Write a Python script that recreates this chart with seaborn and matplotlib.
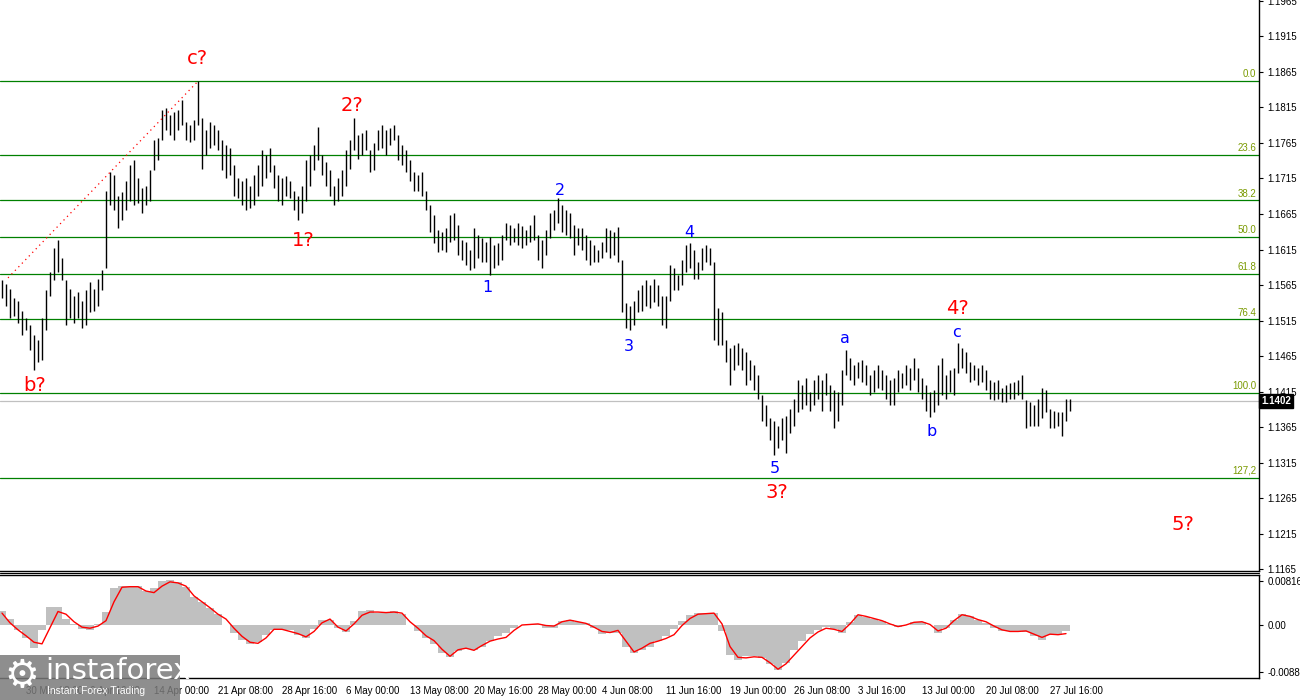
import numpy as np
import pandas as pd
import matplotlib
matplotlib.use("Agg")
import matplotlib.pyplot as plt
import matplotlib.transforms as mtrans
from matplotlib.patches import Rectangle
import seaborn as sns

# ---------------- data ----------------
highs = [
    1.1572, 1.1567, 1.1560, 1.1546, 1.1543, 1.1529, 1.1518, 1.1508, 1.1494, 1.1487,
    1.1518, 1.1558, 1.1583, 1.1617, 1.1628, 1.1603, 1.1572, 1.1560, 1.1550, 1.1555,
    1.1543, 1.1558, 1.1569, 1.1560, 1.1574, 1.1586, 1.1698, 1.1724, 1.1720, 1.1691,
    1.1696, 1.1712, 1.1734, 1.1741, 1.1715, 1.1701, 1.1705, 1.1727, 1.1769, 1.1772,
    1.1811, 1.1814, 1.1804, 1.1808, 1.1811, 1.1825, 1.1794, 1.1790, 1.1797, 1.1852,
    1.1800, 1.1783, 1.1794, 1.1790, 1.1783, 1.1769, 1.1762, 1.1758, 1.1734, 1.1715,
    1.1712, 1.1715, 1.1705, 1.1720, 1.1734, 1.1755, 1.1748, 1.1758, 1.1734, 1.1720,
    1.1715, 1.1718, 1.1712, 1.1698, 1.1691, 1.1705, 1.1741, 1.1748, 1.1762, 1.1787,
    1.1748, 1.1738, 1.1727, 1.1705, 1.1715, 1.1727, 1.1755, 1.1769, 1.1800, 1.1776,
    1.1779, 1.1783, 1.1755, 1.1765, 1.1783, 1.1790, 1.1783, 1.1786, 1.1791, 1.1776,
    1.1762, 1.1755, 1.1741, 1.1724, 1.1720, 1.1724, 1.1698, 1.1677, 1.1663, 1.1642,
    1.1639, 1.1645, 1.1663, 1.1667, 1.1649, 1.1628, 1.1625, 1.1614, 1.1645, 1.1635,
    1.1631, 1.1625, 1.1632, 1.1621, 1.1624, 1.1635, 1.1653, 1.1649, 1.1645, 1.1653,
    1.1648, 1.1642, 1.1649, 1.1663, 1.1635, 1.1628, 1.1642, 1.1667, 1.1670, 1.1687,
    1.1677, 1.1670, 1.1666, 1.1649, 1.1645, 1.1645, 1.1635, 1.1628, 1.1621, 1.1614,
    1.1625, 1.1645, 1.1642, 1.1639, 1.1646, 1.1600, 1.1539, 1.1536, 1.1543, 1.1558,
    1.1565, 1.1572, 1.1565, 1.1574, 1.1565, 1.1550, 1.1550, 1.1593, 1.1589, 1.1579,
    1.1600, 1.1621, 1.1624, 1.1614, 1.1597, 1.1617, 1.1621, 1.1617, 1.1597, 1.1532,
    1.1527, 1.1487, 1.1476, 1.1480, 1.1484, 1.1476, 1.1470, 1.1459, 1.1452, 1.1438,
    1.1410, 1.1396, 1.1377, 1.1374, 1.1367, 1.1377, 1.1381, 1.1391, 1.1405, 1.1431,
    1.1424, 1.1434, 1.1414, 1.1431, 1.1438, 1.1431, 1.1441, 1.1424, 1.1417, 1.1414,
    1.1445, 1.1473, 1.1462, 1.1452, 1.1456, 1.1459, 1.1452, 1.1438, 1.1445, 1.1452,
    1.1445, 1.1438, 1.1431, 1.1434, 1.1445, 1.1441, 1.1452, 1.1448, 1.1462, 1.1448,
    1.1434, 1.1424, 1.1414, 1.1417, 1.1452, 1.1462, 1.1438, 1.1445, 1.1448, 1.1484,
    1.1476, 1.1470, 1.1456, 1.1452, 1.1448, 1.1452, 1.1445, 1.1431, 1.1428, 1.1431,
    1.1420, 1.1424, 1.1427, 1.1428, 1.1431, 1.1438, 1.1403, 1.1400, 1.1396, 1.1405,
    1.1420, 1.1417, 1.1391, 1.1388, 1.1386, 1.1386, 1.1405, 1.1405,
]
lows = [
    1.1547, 1.1536, 1.1518, 1.1522, 1.1512, 1.1494, 1.1501, 1.1473, 1.1445, 1.1456,
    1.1459, 1.1501, 1.1550, 1.1572, 1.1583, 1.1572, 1.1508, 1.1518, 1.1512, 1.1518,
    1.1505, 1.1508, 1.1527, 1.1529, 1.1536, 1.1558, 1.1589, 1.1677, 1.1670, 1.1645,
    1.1656, 1.1670, 1.1684, 1.1677, 1.1680, 1.1666, 1.1677, 1.1684, 1.1727, 1.1741,
    1.1769, 1.1783, 1.1776, 1.1769, 1.1783, 1.1790, 1.1769, 1.1766, 1.1769, 1.1790,
    1.1729, 1.1748, 1.1758, 1.1762, 1.1755, 1.1727, 1.1715, 1.1720, 1.1691, 1.1687,
    1.1677, 1.1670, 1.1673, 1.1677, 1.1691, 1.1705, 1.1715, 1.1724, 1.1701, 1.1684,
    1.1677, 1.1691, 1.1687, 1.1670, 1.1656, 1.1667, 1.1684, 1.1705, 1.1727, 1.1741,
    1.1720, 1.1705, 1.1691, 1.1677, 1.1684, 1.1691, 1.1705, 1.1729, 1.1755, 1.1743,
    1.1748, 1.1755, 1.1724, 1.1727, 1.1755, 1.1758, 1.1748, 1.1762, 1.1769, 1.1741,
    1.1734, 1.1724, 1.1712, 1.1698, 1.1698, 1.1691, 1.1670, 1.1639, 1.1624, 1.1611,
    1.1614, 1.1611, 1.1625, 1.1628, 1.1607, 1.1600, 1.1593, 1.1586, 1.1589, 1.1603,
    1.1597, 1.1597, 1.1579, 1.1589, 1.1593, 1.1600, 1.1628, 1.1621, 1.1625, 1.1621,
    1.1617, 1.1621, 1.1625, 1.1628, 1.1600, 1.1589, 1.1607, 1.1631, 1.1642, 1.1653,
    1.1639, 1.1635, 1.1631, 1.1607, 1.1621, 1.1614, 1.1600, 1.1593, 1.1597, 1.1597,
    1.1603, 1.1611, 1.1603, 1.1607, 1.1597, 1.1527, 1.1504, 1.1501, 1.1508, 1.1527,
    1.1529, 1.1536, 1.1532, 1.1541, 1.1536, 1.1508, 1.1504, 1.1543, 1.1558, 1.1558,
    1.1565, 1.1583, 1.1589, 1.1574, 1.1574, 1.1586, 1.1597, 1.1593, 1.1487, 1.1480,
    1.1480, 1.1456, 1.1424, 1.1445, 1.1452, 1.1445, 1.1424, 1.1431, 1.1417, 1.1405,
    1.1374, 1.1367, 1.1346, 1.1325, 1.1335, 1.1346, 1.1329, 1.1357, 1.1367, 1.1386,
    1.1391, 1.1396, 1.1388, 1.1396, 1.1405, 1.1388, 1.1410, 1.1388, 1.1363, 1.1374,
    1.1396, 1.1438, 1.1431, 1.1424, 1.1434, 1.1428, 1.1424, 1.1410, 1.1414, 1.1420,
    1.1417, 1.1405, 1.1396, 1.1396, 1.1414, 1.1420, 1.1424, 1.1417, 1.1431, 1.1414,
    1.1405, 1.1388, 1.1379, 1.1386, 1.1396, 1.1410, 1.1405, 1.1414, 1.1410, 1.1441,
    1.1448, 1.1441, 1.1428, 1.1431, 1.1424, 1.1428, 1.1417, 1.1405, 1.1403, 1.1405,
    1.1400, 1.1400, 1.1405, 1.1405, 1.1410, 1.1405, 1.1363, 1.1367, 1.1366, 1.1367,
    1.1377, 1.1386, 1.1363, 1.1363, 1.1367, 1.1353, 1.1374, 1.1388,
]
last_price = 1.1402

# MACD main (histogram) and signal, sampled every second bar
macd_main = [
    0.0026, 0.0012, -0.0009, -0.0024, -0.0042, -0.0010, 0.0034, 0.0033, 0.0012, 0.0001,
    -0.0008, -0.0009, 0.0002, 0.0025, 0.0068, 0.0073, 0.0073, 0.0072, 0.0063, 0.0068,
    0.0082, 0.0083, 0.0080, 0.0070, 0.0052, 0.0042, 0.0032, 0.0020, 0.0000, -0.0015,
    -0.0028, -0.0035, -0.0032, -0.0018, -0.0010, -0.0009, -0.0009, -0.0018, -0.0025, -0.0008,
    0.0010, 0.0010, -0.0006, -0.0013, 0.0008, 0.0026, 0.0027, 0.0022, 0.0024, 0.0026,
    0.0020, 0.0000, -0.0012, -0.0025, -0.0035, -0.0052, -0.0060, -0.0048, -0.0044, -0.0047,
    -0.0040, -0.0030, -0.0020, -0.0015, -0.0006, 0.0000, 0.0002, 0.0002, -0.0006, -0.0005,
    0.0007, 0.0010, 0.0006, 0.0003, -0.0005, -0.0016, -0.0015, -0.0015, -0.0040, -0.0052,
    -0.0046, -0.0040, -0.0030, -0.0020, -0.0008, 0.0008, 0.0018, 0.0023, 0.0022, 0.0023,
    -0.0012, -0.0055, -0.0065, -0.0058, -0.0058, -0.0062, -0.0072, -0.0083, -0.0070, -0.0046,
    -0.0030, -0.0017, -0.0010, -0.0004, -0.0008, -0.0015, 0.0005, 0.0019, 0.0015, 0.0012,
    0.0008, 0.0001, -0.0003, 0.0000, 0.0005, 0.0006, 0.0000, -0.0014, -0.0006, 0.0009,
    0.0020, 0.0016, 0.0009, 0.0003, -0.0005, -0.0011, -0.0012, -0.0011, -0.0013, -0.0020,
    -0.0027, -0.0019, -0.0018, -0.0012,
]
macd_signal = [
    0.0022, 0.0004, -0.0009, -0.0020, -0.0032, -0.0035, -0.0005, 0.0025, 0.0020, 0.0006,
    -0.0004, -0.0006, -0.0002, 0.0008, 0.0043, 0.0070, 0.0071, 0.0071, 0.0063, 0.0060,
    0.0072, 0.0080, 0.0078, 0.0072, 0.0054, 0.0043, 0.0032, 0.0020, 0.0011, -0.0006,
    -0.0021, -0.0032, -0.0034, -0.0024, -0.0008, -0.0008, -0.0012, -0.0016, -0.0022, -0.0012,
    0.0004, 0.0011, -0.0004, -0.0011, 0.0002, 0.0018, 0.0024, 0.0024, 0.0023, 0.0024,
    0.0022, 0.0006, -0.0006, -0.0020, -0.0029, -0.0045, -0.0058, -0.0046, -0.0043, -0.0047,
    -0.0038, -0.0030, -0.0026, -0.0023, -0.0010, 0.0000, 0.0001, 0.0002, -0.0001, -0.0002,
    0.0006, 0.0009, 0.0006, 0.0003, -0.0004, -0.0012, -0.0014, -0.0010, -0.0030, -0.0050,
    -0.0043, -0.0034, -0.0030, -0.0025, -0.0018, -0.0001, 0.0012, 0.0020, 0.0021, 0.0022,
    0.0002, -0.0040, -0.0060, -0.0061, -0.0059, -0.0060, -0.0070, -0.0082, -0.0072, -0.0056,
    -0.0040, -0.0024, -0.0013, -0.0006, -0.0008, -0.0012, 0.0002, 0.0019, 0.0016, 0.0012,
    0.0008, 0.0002, -0.0003, 0.0000, 0.0005, 0.0006, 0.0001, -0.0011, -0.0006, 0.0008,
    0.0019, 0.0016, 0.0010, 0.0006, -0.0002, -0.0009, -0.0012, -0.0012, -0.0011, -0.0017,
    -0.0023, -0.0017, -0.0018, -0.0016,
]

date_labels = ["30 Mar 08:00", "6 Apr 16:00", "14 Apr 00:00", "21 Apr 08:00",
               "28 Apr 16:00", "6 May 00:00", "13 May 08:00", "20 May 16:00",
               "28 May 00:00", "4 Jun 08:00", "11 Jun 16:00", "19 Jun 00:00",
               "26 Jun 08:00", "3 Jul 16:00", "13 Jul 00:00", "20 Jul 08:00",
               "27 Jul 16:00"]
date_tick_bars = [6 + 16 * k for k in range(len(date_labels))]

fib_ratios = [0.0, 23.6, 38.2, 50.0, 61.8, 76.4, 100.0, 127.2]
fib_texts = ["0.0", "23.6", "38.2", "50.0", "61.8", "76.4", "100.0", "127,2"]
fib_high = 1.1852
fib_low = 1.1413

price_ticks = [1.1165, 1.1215, 1.1265, 1.1315, 1.1365, 1.1415, 1.1465, 1.1515,
               1.1565, 1.1615, 1.1665, 1.1715, 1.1765, 1.1815, 1.1865, 1.1915, 1.1965]
macd_ticks = [-0.0088, 0.0, 0.00816]
macd_tick_texts = ["-0.0088", "0.00", "0.00816"]

red_waves = [("c?", 48.75, 1.1884), ("b?", 8.25, 1.1424), ("2?", 87.5, 1.1818),
             ("1?", 75.25, 1.1628), ("3?", 193.75, 1.1273), ("4?", 238.75, 1.1532),
             ("5?", 295.25, 1.1227)]
blue_waves = [("2", 139.5, 1.1698), ("1", 121.25, 1.1562), ("3", 156.75, 1.1479),
              ("4", 171.75, 1.1639), ("5", 193.25, 1.1307), ("a", 210.75, 1.1490),
              ("b", 232.5, 1.1359), ("c", 238.75, 1.1498)]
trend_start = (1.5, 1.1575)
trend_end = (49, 1.1852)

# ---------------- styling ----------------
sns.set_style("white")
plt.rcParams['font.family'] = ['Liberation Sans', 'DejaVu Sans']

W, H = 1300, 700
fig = plt.figure(figsize=(13, 7), dpi=100)
fig.patch.set_facecolor("white")

def fx(px):
    return px / W

def fy(py):
    return 1 - py / H

ax = fig.add_axes([0, fy(571), fx(1259), fy(0) - fy(571)])
axm = fig.add_axes([0, fy(678), fx(1259), fy(575) - fy(678)])

n = len(highs)
bars = pd.DataFrame({"i": np.arange(n), "high": highs, "low": lows})

# price bars
ax.vlines(bars["i"], bars["low"], bars["high"], color="black", lw=1.0, zorder=3)

# fibonacci levels
for r, t in zip(fib_ratios, fib_texts):
    lvl = fib_high - r / 100.0 * (fib_high - fib_low)
    ax.axhline(lvl, color="#008000", lw=0.9, zorder=2)
    ax.text(313.6, lvl + 0.00025, t, color="#7a9a01", fontsize=7,
            ha="right", va="bottom", zorder=4)

# current price line
ax.axhline(last_price, color="#c0c0c0", lw=0.9, zorder=1)
trans = mtrans.blended_transform_factory(ax.transAxes, ax.transData)
ax.text(1.0015, last_price, "1.1402", transform=trans, color="white",
        fontsize=7, ha="left", va="center", fontweight="bold",
        bbox=dict(boxstyle="square,pad=0.2", fc="black", ec="black"), zorder=6,
        clip_on=False)

# dotted trend line
ax.plot([trend_start[0], trend_end[0]], [trend_start[1], trend_end[1]],
        color="red", lw=0.9, ls=(0, (1, 3)), zorder=4)

for t, xi, yp in red_waves:
    ax.text(xi, yp, t, color="#ff0000", fontsize=14, ha="center", va="center",
            family=["DejaVu Sans"], zorder=5)
for t, xi, yp in blue_waves:
    ax.text(xi, yp, t, color="#0000ff", fontsize=11.5, ha="center", va="center",
            family=["DejaVu Sans"], zorder=5)

ax.set_xlim(-0.5, 314.25)
ax.set_ylim(1.11622, 1.19664)
ax.set_xticks([])
ax.yaxis.tick_right()
ax.set_yticks(price_ticks)
ax.set_yticklabels([f"{v:.4f}" for v in price_ticks])
ax.tick_params(axis="y", direction="out", length=3, width=0.8, pad=3,
               labelsize=7, colors="black", right=True, left=False)
for s in ["left", "top"]:
    ax.spines[s].set_visible(False)
for s in ["right", "bottom"]:
    ax.spines[s].set_color("black")
    ax.spines[s].set_linewidth(1.0)

# ---------------- MACD ----------------
mx = np.arange(len(macd_main)) * 2
axm.bar(mx, macd_main, width=2.0, color="#c0c0c0", linewidth=0, zorder=2)
sns.lineplot(x=mx, y=macd_signal, ax=axm, color="#ff0000", lw=1.0, zorder=3)
axm.set_xlim(-0.5, 314.25)
axm.set_ylim(-0.00983, 0.00927)
axm.yaxis.tick_right()
axm.set_yticks(macd_ticks)
axm.set_yticklabels(macd_tick_texts)
axm.tick_params(axis="y", direction="out", length=3, width=0.8, pad=3,
                labelsize=7, colors="black", right=True, left=False)
axm.set_xticks(date_tick_bars)
axm.set_xticklabels(date_labels, ha="left")
axm.tick_params(axis="x", direction="out", length=4, width=0.8, pad=2,
                labelsize=7, colors="black")
for lbl in axm.get_xticklabels():
    lbl.set_horizontalalignment("left")
axm.spines["left"].set_visible(False)
for s in ["right", "bottom", "top"]:
    axm.spines[s].set_color("black")
    axm.spines[s].set_linewidth(1.0)
axm.set_xlabel("")
axm.set_ylabel("")
if axm.get_legend():
    axm.get_legend().remove()

# separator double line
fig.add_artist(plt.Line2D([0, fx(1259)], [fy(573), fy(573)], color="black", lw=0.8))

# ---------------- logo ----------------
fig.add_artist(Rectangle((0, fy(700)), fx(180), fy(655) - fy(700),
                         transform=fig.transFigure, fc="#7a7a7a", ec="none",
                         alpha=0.85, zorder=10))
fig.text(fx(22), fy(676), "\u2699", color="white", fontsize=28, ha="center",
         va="center", family=["DejaVu Sans"], zorder=11)
fig.text(fx(45), fy(671), "instaforex", color="white", fontsize=21,
         ha="left", va="center", family=["DejaVu Sans"], zorder=11)
fig.text(fx(47), fy(691), "Instant Forex Trading", color="white", fontsize=7.5,
         ha="left", va="center", zorder=11)

fig.savefig("out.png", dpi=100, facecolor="white")
